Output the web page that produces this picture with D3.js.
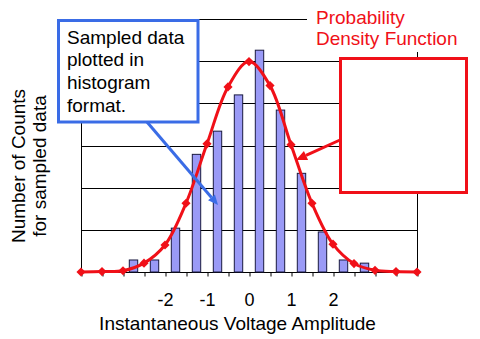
<!DOCTYPE html>
<html><head><meta charset="utf-8">
<script src="https://cdn.jsdelivr.net/npm/d3@7"></script>
<style>
html,body{margin:0;padding:0;background:#fff;}
svg{display:block;font-family:"Liberation Sans",Arial,sans-serif;}
</style></head><body>
<svg id="chart" width="480" height="339"></svg>
<script>
// ---- data ----
const binCenters = [-2.75,-2.25,-1.75,-1.25,-0.75,-0.25,0.25,0.75,1.25,1.75,2.25,2.75];
const binCounts  = [2.85,2.85,10.4,27.9,33.4,42.0,52.6,38.4,23.4,9.5,2.85,2.1];
const pdfX = [-4,-3.5,-3,-2.5,-2,-1.5,-1,-0.5,0,0.5,1,1.5,2,2.5,3,3.5,4];
const pdfY = [0,0.1,0.3,2.1,6.4,16.3,30.4,43.9,49.9,44.2,30.2,16.3,6.6,2.0,0.4,0.1,0];
const tickValues = [-2,-1,0,1,2];
const tickLabels = ["-2","-1","0","1","2"];
const xTitle = "Instantaneous Voltage Amplitude";
const yTitle = ["Number of Counts","for sampled data"];
const noteHist = ["Sampled data","plotted in","histogram","format."];
const notePdf = ["Probability","Density Function"];

// ---- layout ----
const W = 480, H = 339;
const L = 81, R = 417, T = 19, B = 272;
const svg = d3.select("#chart");
const x = d3.scaleLinear().domain([-4,4]).range([L,R]);
const y = d3.scaleLinear().domain([0,60]).range([B,T]);
const RED = "#f01018", BLUE = "#3a6ce6";
const FS = 19, TFS = 18;

const crisp = v => Math.round(v) + 0.5;

// gridlines
svg.append("g").selectAll("line").data(y.ticks(6)).join("line")
  .attr("x1", L).attr("x2", R)
  .attr("y1", d => crisp(y(d))).attr("y2", d => crisp(y(d)))
  .attr("stroke", "#000").attr("stroke-width", 1);

// plot frame
svg.append("rect").attr("x", crisp(L)).attr("y", crisp(T))
  .attr("width", Math.round(R) - Math.round(L)).attr("height", Math.round(B) - Math.round(T))
  .attr("fill", "none").attr("stroke", "#000").attr("stroke-width", 1);

// x axis ticks + labels
const xAxis = d3.axisBottom(x)
  .tickValues(d3.range(-4, 4.001, 0.5))
  .tickSize(4).tickSizeOuter(0).tickPadding(17)
  .tickFormat(d => { const i = tickValues.indexOf(d); return i >= 0 ? tickLabels[i] : ""; });
const gx = svg.append("g").attr("transform", `translate(0,${crisp(B)})`).call(xAxis);
gx.select(".domain").remove();
gx.selectAll(".tick line").attr("stroke", "#000").attr("transform", "translate(0.5,0)");
gx.selectAll(".tick text").attr("font-size", TFS).attr("fill", "#000")
  .attr("font-family", '"Liberation Sans",Arial,sans-serif');

// bars
const bw = x(0.2) - x(0);
svg.append("g").selectAll("rect").data(binCenters.map((c,i)=>({c, v: binCounts[i]}))).join("rect")
  .attr("x", d => x(d.c) - bw/2).attr("width", bw)
  .attr("y", d => y(d.v)).attr("height", d => y(0) - y(d.v))
  .attr("fill", "#9a9af6").attr("stroke", "#1a1a40").attr("stroke-width", 1);

// PDF line
const pts = pdfX.map((v,i)=>[x(v), y(pdfY[i])]);
svg.append("path").datum(pts)
  .attr("d", d3.line().curve(d3.curveCatmullRom.alpha(0.5)))
  .attr("fill", "none").attr("stroke", RED).attr("stroke-width", 3);
svg.append("g").selectAll("path").data(pts).join("path")
  .attr("d", d3.symbol(d3.symbolSquare, 42))
  .attr("transform", d => `translate(${d[0]},${d[1]}) rotate(45)`)
  .attr("fill", RED);

// ---- annotations ----
function arrow(x1, y1, x2, y2, color, hl, hw) {
  const a = Math.atan2(y2 - y1, x2 - x1);
  const bx = x2 - hl * Math.cos(a), by = y2 - hl * Math.sin(a);
  svg.append("line").attr("x1", x1).attr("y1", y1).attr("x2", bx).attr("y2", by)
    .attr("stroke", color).attr("stroke-width", 3);
  const px = -Math.sin(a) * hw / 2, py = Math.cos(a) * hw / 2;
  svg.append("path").attr("d", `M${x2},${y2}L${bx+px},${by+py}L${bx-px},${by-py}Z`).attr("fill", color);
}

// blue callout
arrow(147, 122, 218, 205, BLUE, 10, 9);
svg.append("rect").attr("x", 58.5).attr("y", 20.5).attr("width", 139.5).attr("height", 101.5)
  .attr("fill", "#fff").attr("stroke", BLUE).attr("stroke-width", 3);
svg.append("g").selectAll("text").data(noteHist).join("text")
  .attr("x", 67).attr("y", (d,i) => 43.5 + i * 22.8)
  .attr("font-size", FS).attr("fill", "#000").text(d => d);

// PDF label
svg.append("rect").attr("x", 307).attr("y", 0).attr("width", 158).attr("height", 52).attr("fill", "#fff");
svg.append("g").selectAll("text").data(notePdf).join("text")
  .attr("x", 316).attr("y", (d,i) => 23.5 + i * 21.5)
  .attr("font-size", FS).attr("fill", RED).text(d => d);

// red callout box
arrow(340, 140, 296, 160, RED, 11, 10);
svg.append("rect").attr("x", 340.5).attr("y", 58.5).attr("width", 126).attr("height", 134)
  .attr("fill", "#fff").attr("stroke", RED).attr("stroke-width", 3);

// axis titles
svg.append("text").attr("x", 237.5).attr("y", 330)
  .attr("text-anchor", "middle").attr("font-size", FS).attr("fill", "#000").text(xTitle);
const yt = svg.append("g").attr("transform", "translate(25,166) rotate(-90)");
yt.selectAll("text").data(yTitle).join("text")
  .attr("x", 0).attr("y", (d,i) => i * 20.5)
  .attr("text-anchor", "middle").attr("font-size", FS).attr("fill", "#000").text(d => d);
</script>
</body></html>
